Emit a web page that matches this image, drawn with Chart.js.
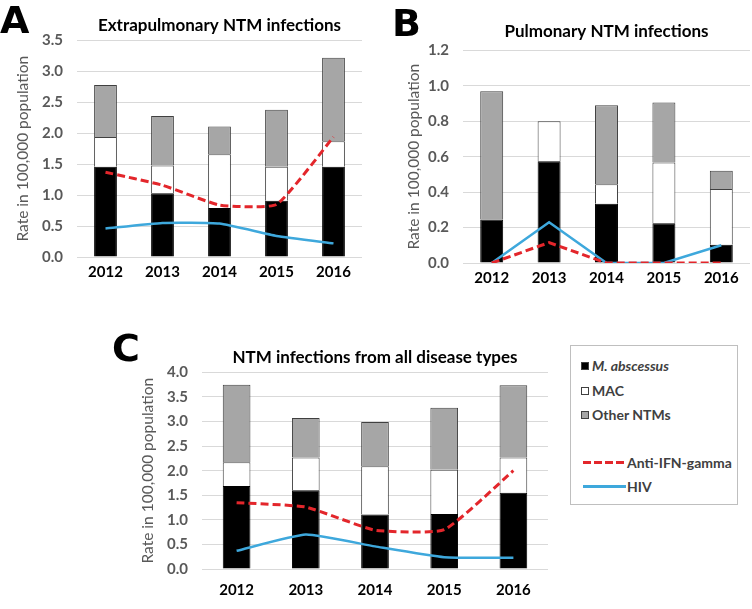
<!DOCTYPE html>
<html>
<head>
<meta charset="utf-8">
<script src="https://cdn.jsdelivr.net/npm/chart.js@4"></script>
<style>
  body { margin: 0; width: 752px; height: 609px; overflow: hidden; background: #fff; position: relative; font-family: Lato, sans-serif; }
  canvas { position: absolute; }
  .letter { position: absolute; font-family: "DejaVu Sans", sans-serif; font-weight: bold; font-size: 38px; line-height: 1; color: #000; }
  #legend { position: absolute; left: 570px; top: 345px; width: 168px; height: 160px; border: 1px solid #bfbfbf; box-sizing: border-box; background: #fff; }
  .item { position: absolute; font-size: 14px; font-weight: bold; color: #404040; white-space: nowrap; line-height: 16px; }
  .sq { position: absolute; width: 8px; height: 8px; border: 1px solid #404040; box-sizing: border-box; }
  .ln { position: absolute; height: 3px; width: 43px; }
</style>
</head>
<body>
<canvas id="chartA" width="372" height="295" style="left:0;top:0"></canvas>
<canvas id="chartB" width="380" height="295" style="left:372px;top:0"></canvas>
<canvas id="chartC" width="560" height="312" style="left:0;top:300px"></canvas>

<div class="letter" style="left:0;top:1px">A</div>
<div class="letter" style="left:392px;top:4px">B</div>
<div class="letter" style="left:112px;top:329px">C</div>

<div id="legend">
  <div class="sq" style="left:10px;top:16px;background:#000"></div>
  <div class="item" style="left:21px;top:12px"><i>M. abscessus</i></div>
  <div class="sq" style="left:10px;top:41px;background:#fff"></div>
  <div class="item" style="left:21px;top:37px">MAC</div>
  <div class="sq" style="left:10px;top:65px;background:#a6a6a6"></div>
  <div class="item" style="left:21px;top:61px">Other NTMs</div>
  <div class="ln" style="left:12px;top:115px;background:repeating-linear-gradient(to right,#e3262b 0 8px,transparent 8px 11px)"></div>
  <div class="item" style="left:56px;top:109px">Anti-IFN-gamma</div>
  <div class="ln" style="left:12px;top:139px;background:#3ea8dc"></div>
  <div class="item" style="left:56px;top:133px">HIV</div>
</div>

<script>
const years = ['2012', '2013', '2014', '2015', '2016'];

// A: extrapulmonary
const absA = [1.46, 1.03, 0.79, 0.91, 1.46];
const macA = [0.48, 0.45, 0.87, 0.55, 0.41];
const otherA = [0.84, 0.80, 0.45, 0.92, 1.35];
const ifnA = [1.37, 1.16, 0.84, 0.85, 1.94];
const hivA = [0.46, 0.55, 0.54, 0.34, 0.22];

// B: pulmonary
const absB = [0.245, 0.575, 0.335, 0.225, 0.103];
const macB = [0, 0.225, 0.11, 0.342, 0.314];
const otherB = [0.725, 0, 0.445, 0.339, 0.103];
const ifnB = [0, 0.115, 0, 0, 0];
const hivB = [0, 0.23, 0, 0, 0.10];

// C: all disease types
const absC = [1.69, 1.60, 1.11, 1.12, 1.55];
const macC = [0.48, 0.67, 0.98, 0.90, 0.72];
const otherC = [1.58, 0.80, 0.90, 1.26, 1.47];
const ifnC = [1.35, 1.26, 0.79, 0.80, 2.00];
const hivC = [0.37, 0.70, 0.46, 0.24, 0.23];

Chart.defaults.font.family = 'Lato, sans-serif';

function makeChart(id, abs, mac, other, ifn, hiv, title, yMax, yStep, lay){
  const ctx = document.getElementById(id);
  const bar = {type: 'bar', barPercentage: 0.4, categoryPercentage: 1, borderWidth: 1, order: 1};
  return new Chart(ctx, {
    data: {
      labels: years,
      datasets: [
        {...bar, label: 'M. abscessus', data: abs, backgroundColor: '#000000', borderColor: '#000000'},
        {...bar, label: 'MAC', data: mac, backgroundColor: '#ffffff', borderColor: '#404040'},
        {...bar, label: 'Other NTMs', data: other, backgroundColor: '#a6a6a6', borderColor: '#404040'},
        {
          type: 'line', label: 'Anti-IFN-gamma', data: ifn, stack: 'ifn', order: 0,
          borderColor: '#e3262b', borderWidth: 3, borderDash: [8, 4],
          pointRadius: 0, tension: lay.tension, fill: false
        },
        {
          type: 'line', label: 'HIV', data: hiv, stack: 'hiv', order: 0,
          borderColor: '#3ea8dc', borderWidth: 2.5,
          pointRadius: 0, tension: lay.tension, fill: false
        }
      ]
    },
    options: {
      responsive: false,
      animation: false,
      layout: {padding: {left: 0, right: lay.right, top: 0, bottom: lay.bottom}},
      plugins: {
        legend: {display: false},
        tooltip: {enabled: false},
        title: {
          display: true,
          text: title,
          fullSize: false,
          color: '#000',
          font: {size: 17, weight: 'bold'},
          padding: {top: lay.titleTop, bottom: lay.titleBottom}
        }
      },
      scales: {
        x: {
          stacked: true,
          grid: {display: false, drawTicks: false},
          border: {display: false},
          ticks: {color: '#000', font: {size: 15, weight: 'bold'}, padding: lay.xPad}
        },
        y: {
          stacked: true,
          min: 0,
          max: yMax,
          grid: {color: '#d9d9d9', drawTicks: false},
          border: {display: false},
          ticks: {
            stepSize: yStep,
            color: '#595959',
            font: {size: 15, weight: 'bold'},
            padding: 14,
            callback: function(value){ return value.toFixed(1); }
          },
          title: {
            display: true,
            text: 'Rate in 100,000 population',
            color: '#595959',
            font: {size: 15.5},
            padding: {top: lay.yTitle, bottom: 0}
          },
          afterFit: function(scale){ scale.width = lay.yWidth; }
        }
      }
    }
  });
}

makeChart('chartA', absA, macA, otherA, ifnA, hivA, 'Extrapulmonary NTM infections', 3.5, 0.5,
  {right: 10, bottom: 8, titleTop: 15, titleBottom: 5, xPad: 6, yWidth: 77, yTitle: 14, tension: 0.15});
makeChart('chartB', absB, macB, otherB, ifnB, hivB, 'Pulmonary NTM infections', 1.2, 0.2,
  {right: 2, bottom: 2, titleTop: 21, titleBottom: 9, xPad: 6, yWidth: 91, yTitle: 33, tension: 0});
makeChart('chartC', absC, macC, otherC, ifnC, hivC, 'NTM infections from all disease types', 4.0, 0.5,
  {right: 12, bottom: 1, titleTop: 47, titleBottom: 5, xPad: 12, yWidth: 202, yTitle: 139, tension: 0.15});
</script>
</body>
</html>
